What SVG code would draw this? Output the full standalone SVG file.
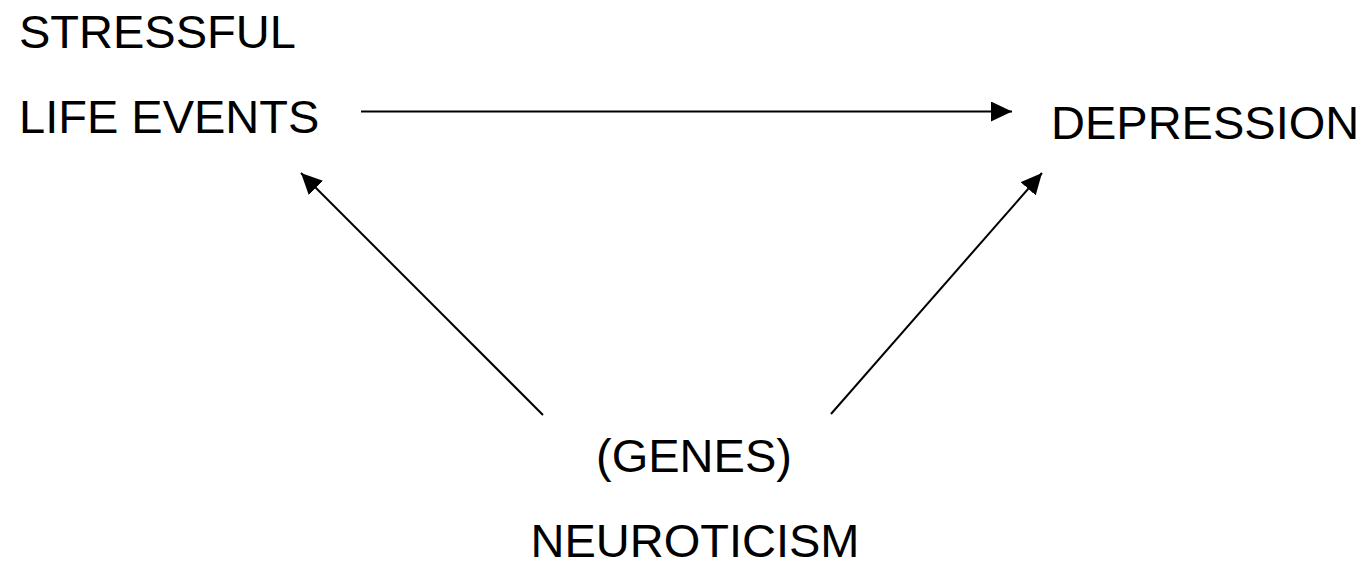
<svg xmlns="http://www.w3.org/2000/svg" width="1367" height="563" viewBox="0 0 1367 563">
<style>
text{font-family:"Liberation Sans",Arial,sans-serif;font-size:47px;fill:#000}
.c{stroke:#000;stroke-width:2;fill:none}
</style>
<defs>
<marker id="ah" markerUnits="userSpaceOnUse" markerWidth="22" markerHeight="20" refX="21" refY="10" orient="auto" viewBox="0 0 22 20">
<path d="M0,0 L21,10 L0,20 Z" fill="#000"/>
</marker>
</defs>
<rect width="1367" height="563" fill="#fff"/>
<g id="connectors">
<line class="c" x1="361" y1="111.5" x2="1012" y2="111.5" marker-end="url(#ah)"/>
<line class="c" x1="543" y1="415" x2="301" y2="173" marker-end="url(#ah)"/>
<line class="c" x1="831" y1="414" x2="1042" y2="173" marker-end="url(#ah)"/>
</g>
<g id="stressful">
<text x="19" y="48">STRESSFUL</text>
<text x="19" y="133">LIFE EVENTS</text>
</g>
<g id="depression">
<text x="1051" y="139">DEPRESSION</text>
</g>
<g id="neuroticism">
<text x="694" y="472" text-anchor="middle">(GENES)</text>
<text x="695" y="557" text-anchor="middle">NEUROTICISM</text>
</g>
</svg>
